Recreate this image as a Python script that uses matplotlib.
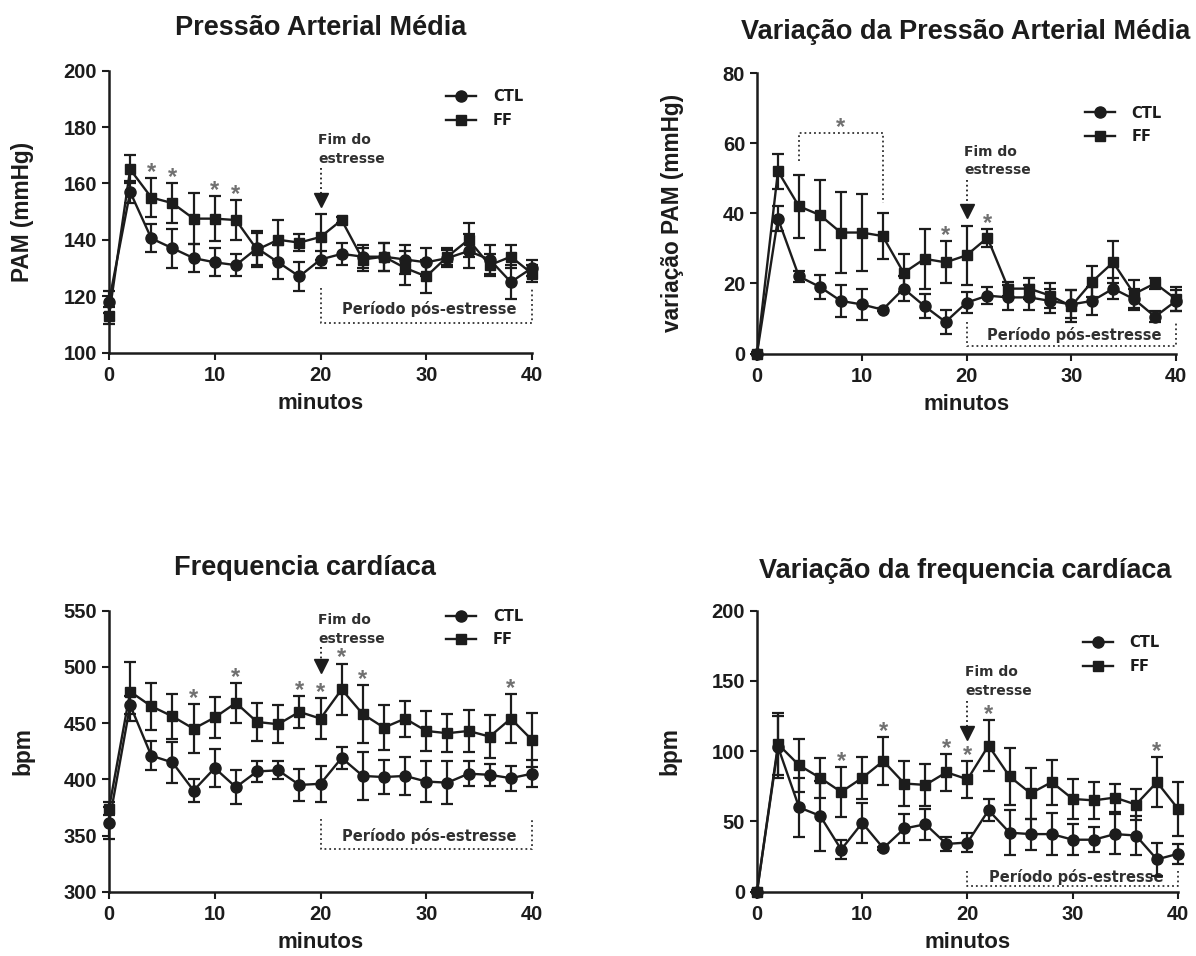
import matplotlib
matplotlib.use("Agg")
import matplotlib.pyplot as plt
from matplotlib.lines import Line2D

plt.rcParams['font.family'] = ['Liberation Sans', 'DejaVu Sans']
plt.rcParams['font.weight'] = 'bold'

minutos = [0, 2, 4, 6, 8, 10, 12, 14, 16, 18, 20, 22, 24, 26, 28, 30, 32, 34, 36, 38, 40]

# Pressão Arterial Média
pam_ctl = [118, 157, 140.5, 137, 133.5, 132, 131, 137, 132, 127, 133, 135, 134, 134, 133, 132, 133.5, 136, 133, 125, 130]
pam_ctl_err = [4, 4, 5, 7, 5, 5, 4, 6, 6, 5, 3, 4, 4, 5, 5, 5, 3, 6, 5, 6, 3]
pam_ff = [113, 165, 155, 153, 147.5, 147.5, 147, 136.5, 140, 139, 141, 147, 133, 134, 130, 127, 134, 140, 131, 134, 128]
pam_ff_err = [3, 5, 7, 7, 9, 8, 7, 6, 7, 3, 8, 1, 4, 5, 6, 6, 3, 6, 4, 4, 3]

# Variação da PAM
dpam_ctl = [0, 38.5, 22, 19, 15, 14, 12.5, 18.5, 13.5, 9, 14.5, 16.5, 16, 16, 15, 14, 15, 18.5, 15.5, 10.5, 15]
dpam_ctl_err = [0.5, 3.5, 1.5, 3.5, 4.5, 4.5, 0.5, 3.5, 3.5, 3.5, 3, 2.5, 3.5, 3.5, 3.5, 4, 4, 3, 3, 1.5, 3]
dpam_ff = [0, 52, 42, 39.5, 34.5, 34.5, 33.5, 23, 27, 26, 28, 33, 18.5, 18.5, 16.5, 13.5, 20.5, 26, 17, 20, 15.5]
dpam_ff_err = [0.5, 5, 9, 10, 11.5, 11, 6.5, 5.5, 8.5, 6, 8.5, 2.5, 2, 3, 3.5, 4.5, 4.5, 6, 4, 1.5, 3.5]

# Frequencia cardíaca
fc_ctl = [361, 466, 421, 415, 390, 410, 393, 407, 408, 395, 396, 419, 403, 402, 403, 398, 397, 405, 404, 401, 405]
fc_ctl_err = [14, 8, 13, 18, 10, 17, 15, 9, 8, 14, 16, 10, 21, 15, 17, 18, 19, 11, 10, 11, 12]
fc_ff = [374, 478, 465, 456, 445, 455, 468, 451, 449, 460, 454, 480, 458, 446, 454, 443, 441, 443, 438, 454, 435]
fc_ff_err = [6, 26, 21, 20, 22, 18, 18, 17, 17, 14, 18, 23, 26, 20, 16, 18, 17, 19, 19, 22, 24]

# Variação da frequencia cardíaca
dfc_ctl = [0, 103, 60, 54, 30, 49, 31, 45, 48, 34, 35, 58, 42, 41, 41, 37, 37, 41, 40, 23, 27]
dfc_ctl_err = [1, 22, 21, 25, 7, 14, 1, 10, 11, 5, 7, 8, 16, 11, 15, 11, 9, 14, 14, 12, 7]
dfc_ff = [0, 105, 90, 81, 71, 81, 93, 77, 76, 85, 80, 104, 82, 70, 78, 66, 65, 67, 62, 78, 59]
dfc_ff_err = [1, 22, 19, 14, 18, 15, 17, 16, 15, 13, 13, 18, 20, 18, 16, 14, 13, 10, 11, 18, 19]

titles = ["Pressão Arterial Média", "Variação da Pressão Arterial Média",
          "Frequencia cardíaca", "Variação da frequencia cardíaca"]
ylabels = ["PAM (mmHg)", "variação PAM (mmHg)", "bpm", "bpm"]
xlabel = "minutos"
legend_labels = ["CTL", "FF"]
ylims = [(100, 200), (0, 80), (300, 550), (0, 200)]
yticks = [[100, 120, 140, 160, 180, 200], [0, 20, 40, 60, 80],
          [300, 350, 400, 450, 500, 550], [0, 50, 100, 150, 200]]
xticks = [0, 10, 20, 30, 40]
star_idx = [[2, 3, 5, 6], [9, 11], [4, 6, 9, 10, 11, 12, 19], [4, 6, 9, 10, 11, 19]]
annot_fim = "Fim do\nestresse"
annot_pos = "Período pós-estresse"

INK = '#1c1c1c'
GRAY = '#707070'
ANN = '#303030'
ANN_FONT = ['DejaVu Sans']

fig = plt.figure(figsize=(11.96, 9.56), dpi=100)
W, H = 1196, 956

def add_ax(left, right, top, bottom):
    return fig.add_axes([left / W, 1 - bottom / H, (right - left) / W, (bottom - top) / H])

axes = [add_ax(109, 532, 70.7, 352.5),
        add_ax(757, 1176, 73, 353.5),
        add_ax(109, 532, 610.7, 891.7),
        add_ax(757, 1178, 610.7, 891.7)]

data = [(pam_ctl, pam_ctl_err, pam_ff, pam_ff_err),
        (dpam_ctl, dpam_ctl_err, dpam_ff, dpam_ff_err),
        (fc_ctl, fc_ctl_err, fc_ff, fc_ff_err),
        (dfc_ctl, dfc_ctl_err, dfc_ff, dfc_ff_err)]

# annotation geometry (data coords)
fim_geo = [(175.5, 168.5, 165.5, 154), (57.6, 52.2, 49.5, 40.5), (542, 525, 518, 501), (156.5, 142.5, 136, 113)]
box_geo = [(123, 110.6, 115.4), (9, 2.1, 5.2), (365, 337.7, 349.6), (14.7, 4, 10.8)]
leg_geo = [(0.797, 0.866), (0.783, 0.815), (0.797, 0.938), (0.774, 0.844)]
title_pos = [(321, 28), (966, 32), (305, 568), (965, 571)]
ylabel_x = [23, 672, 23, 670]

for k, ax in enumerate(axes):
    ctl, ctl_e, ff, ff_e = data[k]
    ax.errorbar(minutos, ff, yerr=ff_e, color=INK, marker='s', markersize=7.5, lw=1.7,
                elinewidth=1.6, capsize=4, capthick=1.6, clip_on=False, zorder=3)
    ax.errorbar(minutos, ctl, yerr=ctl_e, color=INK, marker='o', markersize=8, lw=1.7,
                elinewidth=1.6, capsize=4, capthick=1.6, clip_on=False, zorder=4)
    ax.set_xlim(0, 40)
    ax.set_ylim(*ylims[k])
    ax.set_xticks(xticks)
    ax.set_yticks(yticks[k])
    for s in ['top', 'right']:
        ax.spines[s].set_visible(False)
    for s in ['left', 'bottom']:
        ax.spines[s].set_linewidth(1.8)
        ax.spines[s].set_color(INK)
    ax.tick_params(axis='both', direction='out', length=5, width=1.5, colors=INK, labelsize=14.5)
    ax.tick_params(axis='x', pad=4.5)
    ax.tick_params(axis='y', pad=3.5)
    for lab in ax.get_xticklabels() + ax.get_yticklabels():
        lab.set_fontweight('bold')
    ax.set_xlabel(xlabel, fontsize=16, fontweight='bold', color=INK, labelpad=6)
    pos = ax.get_position()
    fig.text(ylabel_x[k] / W, pos.y0 + pos.height / 2, ylabels[k], rotation=90, fontsize=16.3,
             fontweight='bold', color=INK, ha='center', va='center')
    fig.text(title_pos[k][0] / W, 1 - title_pos[k][1] / H, titles[k], fontsize=19.5,
             fontweight='bold', color=INK, ha='center', va='center')

    # asterisks
    for i in star_idx[k]:
        ax.annotate('*', xy=(minutos[i], ff[i] + ff_e[i]), xytext=(0, 4), textcoords='offset points',
                    ha='center', va='center', fontsize=17, color=GRAY, fontweight='bold')

    # Fim do estresse
    y1, y2, atop, ahead = fim_geo[k]
    ax.text(19.8, (y1 + y2) / 2, annot_fim, fontsize=10, fontweight='bold', color=ANN,
            family=ANN_FONT, ha='left', va='center', linespacing=1.45)
    ax.plot([20, 20], [atop, ahead], ls=':', lw=1.3, color=INK)
    ax.plot([20], [ahead], marker='v', markersize=10.5, color=INK, linestyle='none')

    # Período pós-estresse bracket
    btop, bbot, ty = box_geo[k]
    ax.plot([20, 20, 40, 40], [btop, bbot, bbot, btop], ls=':', lw=1.3, color=ANN, clip_on=False)
    ax.text(30.3, ty, annot_pos, fontsize=10.5, fontweight='bold', color=ANN, family=ANN_FONT,
            ha='center', va='center')

    # legend
    handles = [Line2D([], [], color=INK, lw=1.7, marker='o', markersize=8),
               Line2D([], [], color=INK, lw=1.7, marker='s', markersize=7.5)]
    leg = ax.legend(handles, legend_labels, loc='center left', bbox_to_anchor=leg_geo[k],
                    frameon=False, prop={'family': ANN_FONT, 'weight': 'bold', 'size': 10.5},
                    handlelength=2.05, handletextpad=1.15, labelspacing=0.6,
                    borderpad=0, borderaxespad=0)
    for t in leg.get_texts():
        t.set_color(INK)

# bracket with asterisk in panel 2
axes[1].plot([4, 4, 12, 12], [55, 63, 63, 43], ls=':', lw=1.3, color=ANN)
axes[1].text(8, 64.5, '*', fontsize=17, color=GRAY, ha='center', va='center', fontweight='bold')

fig.savefig('out.png', dpi=100, facecolor='white')
